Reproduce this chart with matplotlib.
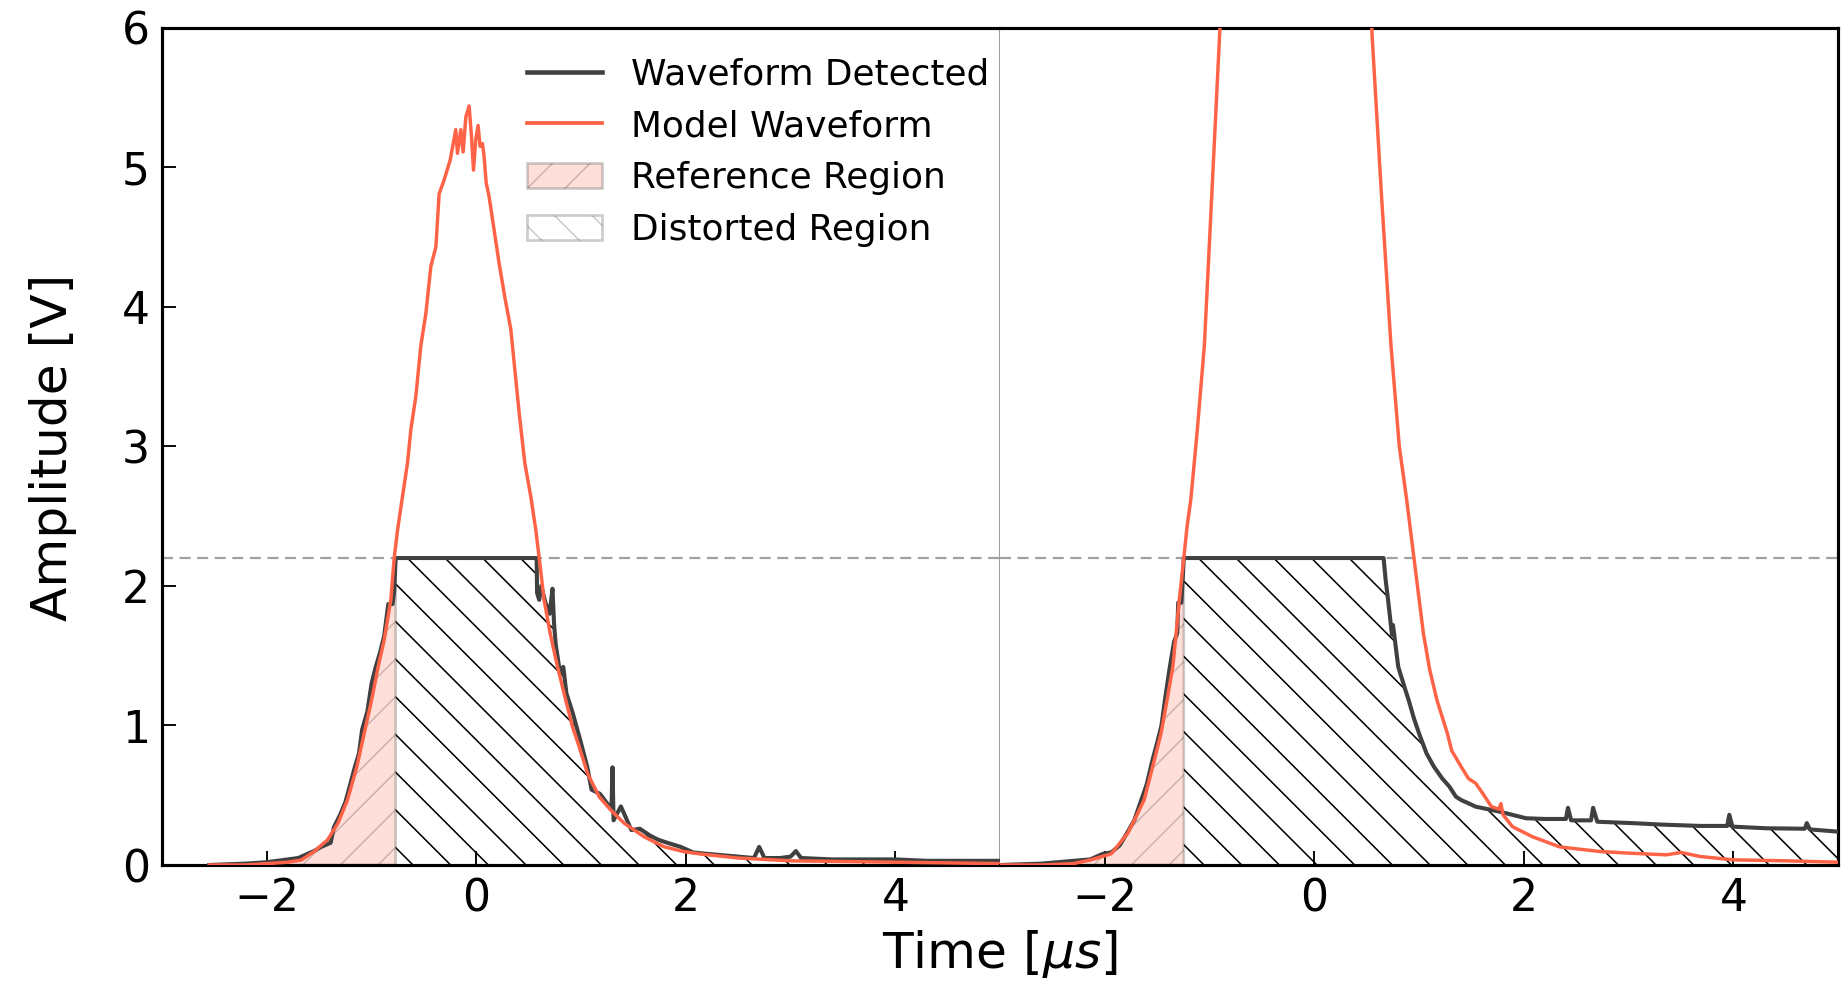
import matplotlib.pyplot as plt
import numpy as np
from matplotlib.lines import Line2D
from matplotlib.patches import Patch
from matplotlib.colors import to_rgba

plt.rcParams['font.family'] = 'DejaVu Sans'
plt.rcParams['mathtext.fontset'] = 'dejavusans'
plt.rcParams['hatch.linewidth'] = 0.5

# ---- left panel: waveform below saturation ----
left_det_t = [-2.55, -2.2, -2.0, -1.9, -1.8, -1.7, -1.61, -1.55, -1.48, -1.42, -1.39, -1.36,
              -1.3, -1.25, -1.21, -1.16, -1.12, -1.09, -1.04, -1.0, -0.96, -0.92, -0.88, -0.84,
              -0.80, -0.785, -0.77, 0.576, 0.58, 0.60, 0.62, 0.66, 0.70, 0.727, 0.742, 0.758,
              0.80, 0.83, 0.86, 0.92, 0.99, 1.06, 1.10, 1.18, 1.24, 1.29, 1.30, 1.31, 1.38,
              1.48, 1.56, 1.66, 1.74, 1.82, 1.95, 2.07, 2.2, 2.35, 2.5, 2.65, 2.7, 2.75, 2.9,
              3.0, 3.05, 3.1, 3.4, 3.7, 4.0, 4.3, 4.6, 5.0]
left_det_v = [0.0, 0.01, 0.02, 0.03, 0.04, 0.05, 0.08, 0.10, 0.13, 0.15, 0.16, 0.27,
              0.36, 0.45, 0.56, 0.70, 0.80, 0.97, 1.10, 1.30, 1.42, 1.52, 1.64, 1.87,
              1.87, 1.95, 2.2, 2.2, 1.95, 1.90, 2.0, 1.88, 1.80, 1.98, 1.73, 1.58,
              1.37, 1.42, 1.23, 1.09, 0.90, 0.70, 0.54, 0.51, 0.45, 0.40, 0.70, 0.32, 0.42,
              0.25, 0.26, 0.21, 0.18, 0.16, 0.13, 0.09, 0.08, 0.07, 0.06, 0.05, 0.13, 0.05, 0.05,
              0.06, 0.10, 0.05, 0.04, 0.04, 0.04, 0.03, 0.03, 0.03]

left_mod_t = [-2.55, -2.2, -2.0, -1.8, -1.67, -1.55, -1.42, -1.32, -1.23, -1.14, -1.07, -1.0,
              -0.937, -0.88, -0.816, -0.784, -0.752, -0.705, -0.657, -0.625, -0.577, -0.53,
              -0.482, -0.434, -0.386, -0.355, -0.307, -0.25, -0.196, -0.18, -0.148, -0.126,
              -0.10, -0.069, -0.046, -0.027, -0.005, 0.017, 0.036, 0.059, 0.075, 0.094, 0.122,
              0.17, 0.218, 0.272, 0.329, 0.361, 0.409, 0.463, 0.52, 0.568, 0.60, 0.647, 0.705,
              0.775, 0.854, 0.918, 0.981, 1.061, 1.172, 1.283, 1.41, 1.60, 1.79, 1.98, 2.14,
              2.5, 3.0, 3.5, 4.0, 4.5, 5.0]
left_mod_v = [0.0, 0.0, 0.01, 0.02, 0.036, 0.096, 0.18, 0.30, 0.466, 0.705, 0.944, 1.18,
              1.42, 1.61, 1.90, 2.20, 2.40, 2.64, 2.88, 3.12, 3.36, 3.72,
              3.95, 4.29, 4.43, 4.81, 4.91, 5.05, 5.27, 5.10, 5.27, 5.11,
              5.36, 5.44, 5.22, 4.98, 5.20, 5.30, 5.15, 5.17, 5.07, 4.89, 4.79,
              4.55, 4.31, 4.07, 3.84, 3.60, 3.24, 2.88, 2.64, 2.40, 2.20, 1.90, 1.66,
              1.42, 1.18, 0.99, 0.85, 0.657, 0.49, 0.394, 0.30, 0.203, 0.131, 0.096, 0.079,
              0.05, 0.03, 0.025, 0.02, 0.015, 0.01]
left_cut = -0.77

# ---- right panel: saturated waveform ----
right_det_t = [-3.0, -2.6, -2.3, -2.14, -2.02, -1.94, -1.86, -1.78, -1.72, -1.66, -1.6, -1.55,
               -1.5, -1.46, -1.42, -1.38, -1.34, -1.31, -1.30, -1.27, -1.247, 0.66, 0.68, 0.70,
               0.74, 0.75, 0.80, 0.87, 0.90, 0.95, 1.0, 1.07, 1.14, 1.22, 1.29, 1.35, 1.40,
               1.54, 1.77, 2.02, 2.2, 2.40, 2.42, 2.45, 2.64, 2.66, 2.70, 3.04, 3.3, 3.68,
               3.94, 3.96, 3.99, 4.32, 4.68, 4.70, 4.73, 5.0]
right_det_v = [0.0, 0.01, 0.03, 0.04, 0.08, 0.09, 0.14, 0.24, 0.32, 0.45, 0.58, 0.74,
               0.88, 1.0, 1.22, 1.42, 1.6, 1.66, 1.88, 1.88, 2.2, 2.2, 2.04, 1.92,
               1.65, 1.72, 1.42, 1.25, 1.18, 1.05, 0.94, 0.80, 0.705, 0.62, 0.56, 0.49, 0.466,
               0.418, 0.382, 0.335, 0.33, 0.33, 0.41, 0.32, 0.32, 0.41, 0.31, 0.30, 0.29, 0.28,
               0.28, 0.36, 0.275, 0.263, 0.26, 0.30, 0.255, 0.239]

right_mod_t = [-3.0, -2.6, -2.3, -2.14, -1.94, -1.78, -1.70, -1.624, -1.544, -1.464, -1.407,
               -1.352, -1.32, -1.29, -1.247, -1.215, -1.18, -1.12, -1.05, -0.98, -0.905, -0.85,
               0.48, 0.55, 0.64, 0.73, 0.81, 0.88, 0.95, 1.04, 1.10, 1.17, 1.27, 1.31, 1.40,
               1.47, 1.54, 1.60, 1.69, 1.76, 1.78, 1.80, 1.89, 2.08, 2.34, 2.72, 3.0, 3.36,
               3.5, 3.68, 4.0, 4.5, 5.0]
right_mod_v = [0.0, 0.0, 0.01, 0.036, 0.08, 0.23, 0.35, 0.47, 0.705, 0.944, 1.18,
               1.42, 1.66, 1.90, 2.2, 2.43, 2.62, 3.1, 3.73, 4.8, 5.95, 7.0,
               7.0, 5.95, 4.8, 3.73, 3.0, 2.62, 2.2, 1.66, 1.40, 1.18, 0.94, 0.82, 0.705,
               0.62, 0.585, 0.52, 0.418, 0.40, 0.44, 0.36, 0.275, 0.203, 0.13, 0.097, 0.085, 0.073,
               0.09, 0.061, 0.037, 0.03, 0.02]
right_cut = -1.247

threshold = 2.2
xticks = [-2, 0, 2, 4]
yticks = [0, 1, 2, 3, 4, 5, 6]

det_color = '#404040'
mod_color = 'tomato'

DPI = 226
fig, (ax1, ax2) = plt.subplots(1, 2, sharey=True, figsize=(1841.2 / DPI, 985.2 / DPI), dpi=DPI)
fig.subplots_adjust(left=0.088, right=0.9984, top=0.9716, bottom=0.1218, wspace=0)


def draw_panel(ax, det_t, det_v, mod_t, mod_v, cut):
    det_t = np.array(det_t)
    det_v = np.array(det_v)
    ax.fill_between(det_t, 0, det_v, where=det_t <= cut, facecolor=mod_color,
                    edgecolor='k', alpha=0.2, hatch='//', linewidth=0.85, zorder=1)
    ax.fill_between(det_t, 0, det_v, where=det_t >= cut, facecolor='none',
                    edgecolor='k', hatch='\\\\', linewidth=0, zorder=1)
    ax.axhline(threshold, color='#a0a0a0', linestyle=(0, (5, 3)), linewidth=0.7, zorder=2)
    ax.plot(det_t, det_v, color=det_color, linewidth=1.3, zorder=3)
    ax.plot(mod_t, mod_v, color=mod_color, linewidth=1.1, zorder=4)
    ax.set_xlim(-3, 5)
    ax.set_ylim(0, 6)
    ax.set_xticks(xticks)
    ax.set_yticks(yticks)
    ax.tick_params(direction='in', length=4.5, width=0.6, labelsize=14, pad=3.8)
    for s in ax.spines.values():
        s.set_linewidth(1.0)
        s.set_color('k')


draw_panel(ax1, left_det_t, left_det_v, left_mod_t, left_mod_v, left_cut)
draw_panel(ax2, right_det_t, right_det_v, right_mod_t, right_mod_v, right_cut)

ax1.spines['right'].set_color('#999999')
ax1.spines['right'].set_linewidth(0.6)
ax2.spines['left'].set_visible(False)
ax2.tick_params(axis='y', left=False)

handles = [
    Line2D([], [], color=det_color, linewidth=1.45),
    Line2D([], [], color=mod_color, linewidth=1.2),
    Patch(facecolor=to_rgba(mod_color, 0.2), edgecolor=(0, 0, 0, 0.2), hatch='//', linewidth=0.85),
    Patch(facecolor='white', edgecolor=(0, 0, 0, 0.2), hatch='\\\\', linewidth=0.85),
]
labels = ['Waveform Detected', 'Model Waveform', 'Reference Region', 'Distorted Region']
ax1.legend(handles, labels, loc='upper left', bbox_to_anchor=(0.435, 0.965), frameon=False,
           fontsize=11.45, borderpad=0, borderaxespad=0, labelspacing=0.5,
           handlelength=2.1, handletextpad=0.8)

fig.text(0.543, 0.032, r'Time [$\mu s$]', ha='center', va='center', fontsize=16)
fig.text(0.029, 0.546, 'Amplitude [V]', ha='center', va='center', rotation=90, fontsize=16)

fig.savefig('out.png', dpi=DPI)
